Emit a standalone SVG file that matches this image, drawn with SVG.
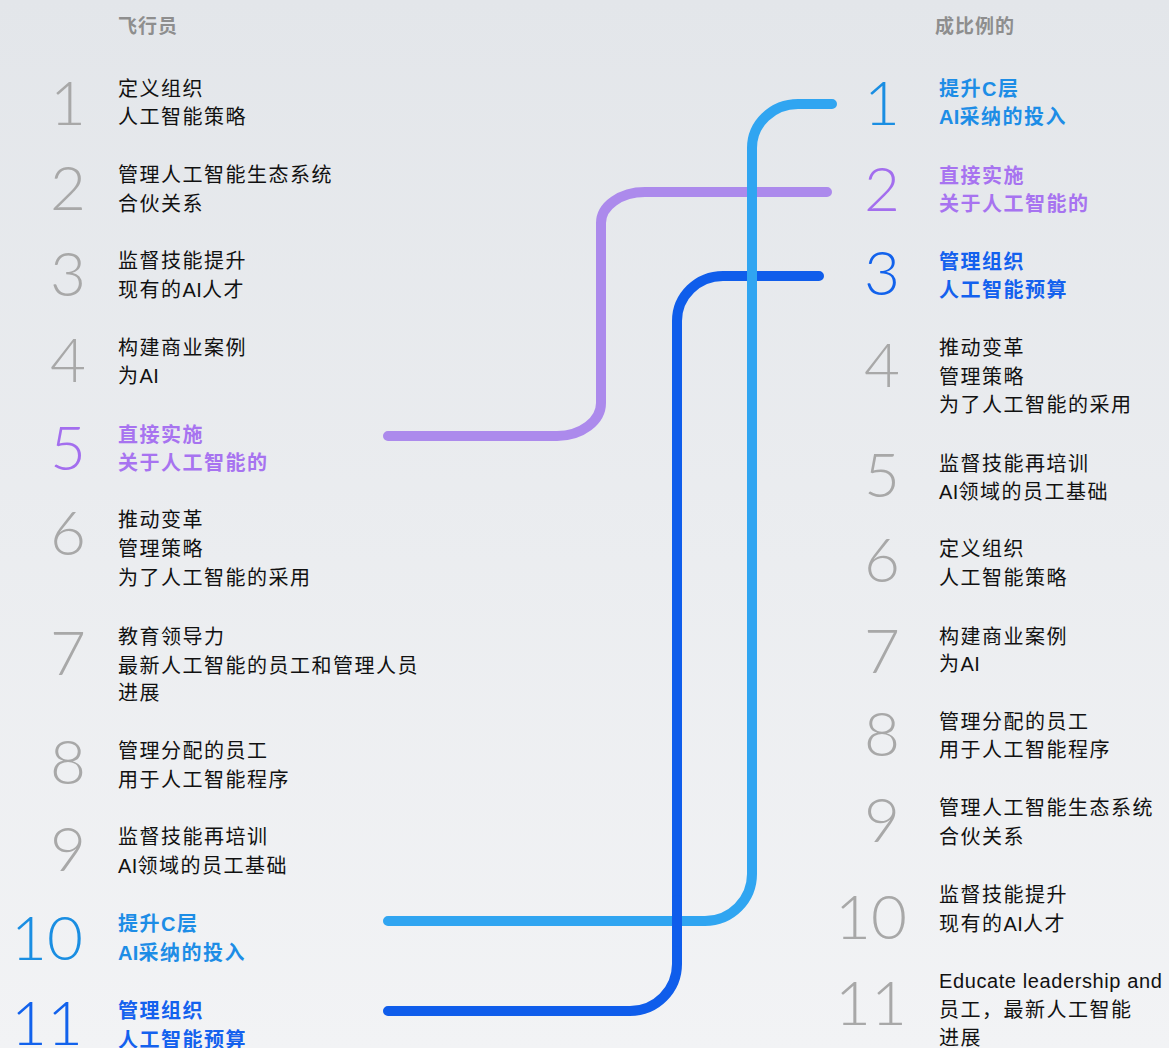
<svg xmlns="http://www.w3.org/2000/svg" width="1169" height="1048" viewBox="0 0 1169 1048">
<defs>
<linearGradient id="bg" x1="0" y1="0" x2="0" y2="1">
<stop offset="0" stop-color="#E3E6EA"/>
<stop offset="1" stop-color="#F2F3F5"/>
</linearGradient>
<style>
.hd{font-family:"Noto Sans CJK SC",sans-serif;font-size:19px;font-weight:700;fill:#8E8E8E;letter-spacing:1px}
.num{font-family:"Lato","Open Sans",sans-serif;font-weight:300;font-size:62px;fill:#A8A8A8;text-anchor:end}
.t{font-family:"Liberation Sans","Noto Sans CJK SC",sans-serif;font-size:20px;fill:#111;letter-spacing:1.5px}
.en{letter-spacing:0.6px}
.l{letter-spacing:0.3px}
.b{font-weight:700}
.lb{fill:#1D8DE6}
.pu{fill:#A773F0}
.db{fill:#1461EE}
.nlb{fill:#1A8EE2}
.npu{fill:#A36EEE}
.ndb{fill:#1262EC}
.c{fill:none;stroke-width:10;stroke-linecap:round;stroke-linejoin:round}
</style>
</defs>
<rect width="1169" height="1048" fill="url(#bg)"/>

<g id="connectors">
<path class="c" stroke="#AC8AEC" d="M388 436 H557 A44 33 0 0 0 601 403 V223 A44 31 0 0 1 645 192 H827"/>
<path class="c" stroke="#0F5DEB" d="M388 1011 H630 A47 47 0 0 0 677 964 V321 A46 45 0 0 1 723 276 H819"/>
<path class="c" stroke="#30A5F1" d="M388 921 H705 A47 47 0 0 0 752 874 V148 A46 44 0 0 1 798 104 H832"/>
<path class="c" stroke="#0F5DEB" stroke-linecap="butt" d="M677 900 V942"/>
</g>

<g id="headers">
<text class="hd" x="118" y="33">飞行员</text>
<text class="hd" x="935" y="33">成比例的</text>
</g>

<g id="left-1"><text class="num" x="86" y="125">1</text><text class="t" x="118" y="96">定义组织</text><text class="t" x="118" y="124">人工智能策略</text></g>
<g id="left-2"><text class="num" x="86" y="210">2</text><text class="t" x="118" y="182">管理人工智能生态系统</text><text class="t" x="118" y="211">合伙关系</text></g>
<g id="left-3"><text class="num" x="86" y="296">3</text><text class="t" x="118" y="268">监督技能提升</text><text class="t" x="118" y="297">现有的<tspan class="l">AI</tspan>人才</text></g>
<g id="left-4"><text class="num" x="86" y="382">4</text><text class="t" x="118" y="355">构建商业案例</text><text class="t" x="118" y="383">为<tspan class="l">AI</tspan></text></g>
<g id="left-5"><text class="num npu" x="86" y="470">5</text><text class="t b pu" x="118" y="442">直接实施</text><text class="t b pu" x="118" y="470">关于人工智能的</text></g>
<g id="left-6"><text class="num" x="86" y="555">6</text><text class="t" x="118" y="527">推动变革</text><text class="t" x="118" y="556">管理策略</text><text class="t" x="118" y="585">为了人工智能的采用</text></g>
<g id="left-7"><text class="num" x="86" y="675">7</text><text class="t" x="118" y="644">教育领导力</text><text class="t" x="118" y="673">最新人工智能的员工和管理人员</text><text class="t" x="118" y="700">进展</text></g>
<g id="left-8"><text class="num" x="86" y="784">8</text><text class="t" x="118" y="758">管理分配的员工</text><text class="t" x="118" y="787">用于人工智能程序</text></g>
<g id="left-9"><text class="num" x="86" y="871">9</text><text class="t" x="118" y="844">监督技能再培训</text><text class="t" x="118" y="873"><tspan class="l">AI</tspan>领域的员工基础</text></g>
<g id="left-10"><text class="num nlb" x="83" y="960">10</text><text class="t b lb" x="118" y="931">提升C层</text><text class="t b lb" x="118" y="960"><tspan class="l">AI</tspan>采纳的投入</text></g>
<g id="left-11"><text class="num ndb" x="83" y="1045">11</text><text class="t b db" x="118" y="1018">管理组织</text><text class="t b db" x="118" y="1047">人工智能预算</text></g>

<g id="right-1"><text class="num nlb" x="900" y="125">1</text><text class="t b lb" x="939" y="96">提升C层</text><text class="t b lb" x="939" y="124"><tspan class="l">AI</tspan>采纳的投入</text></g>
<g id="right-2"><text class="num npu" x="900" y="211">2</text><text class="t b pu" x="939" y="183">直接实施</text><text class="t b pu" x="939" y="211">关于人工智能的</text></g>
<g id="right-3"><text class="num ndb" x="900" y="295">3</text><text class="t b db" x="939" y="269">管理组织</text><text class="t b db" x="939" y="297">人工智能预算</text></g>
<g id="right-4"><text class="num" x="900" y="387">4</text><text class="t" x="939" y="355">推动变革</text><text class="t" x="939" y="384">管理策略</text><text class="t" x="939" y="412">为了人工智能的采用</text></g>
<g id="right-5"><text class="num" x="900" y="497">5</text><text class="t" x="939" y="471">监督技能再培训</text><text class="t" x="939" y="499"><tspan class="l">AI</tspan>领域的员工基础</text></g>
<g id="right-6"><text class="num" x="900" y="582">6</text><text class="t" x="939" y="556">定义组织</text><text class="t" x="939" y="585">人工智能策略</text></g>
<g id="right-7"><text class="num" x="900" y="673">7</text><text class="t" x="939" y="644">构建商业案例</text><text class="t" x="939" y="671">为<tspan class="l">AI</tspan></text></g>
<g id="right-8"><text class="num" x="900" y="756">8</text><text class="t" x="939" y="729">管理分配的员工</text><text class="t" x="939" y="757">用于人工智能程序</text></g>
<g id="right-9"><text class="num" x="900" y="842">9</text><text class="t" x="939" y="815">管理人工智能生态系统</text><text class="t" x="939" y="844">合伙关系</text></g>
<g id="right-10"><text class="num" x="907" y="939">10</text><text class="t" x="939" y="902">监督技能提升</text><text class="t" x="939" y="931">现有的<tspan class="l">AI</tspan>人才</text></g>
<g id="right-11"><text class="num" x="907" y="1025">11</text><text class="t en" x="939" y="988">Educate leadership and</text><text class="t" x="939" y="1017">员工，最新人工智能</text><text class="t" x="939" y="1045">进展</text></g>
</svg>
